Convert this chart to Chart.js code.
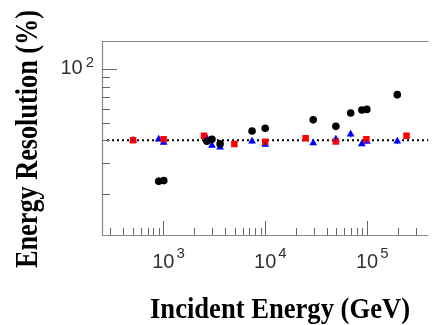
<!DOCTYPE html>
<html>
<head>
<meta charset="utf-8">
<script src="https://cdn.jsdelivr.net/npm/chart.js@4.4.0/dist/chart.umd.min.js"></script>
<style>
  html, body { margin: 0; padding: 0; background: #fff; }
  #wrap { width: 433px; height: 325px; }
</style>
</head>
<body>
<div id="wrap"><canvas id="resChart" width="433" height="325"></canvas></div>
<script>
// incident energies (GeV) and resolutions (%)
const blackE = [900, 1010, 2680, 3000, 3610, 7430, 10000, 29600, 49400, 69000, 88800, 99500, 198000];
const blackR = [23.6, 23.8, 39.5, 40.6, 38.2, 45.1, 46.7, 52.1, 47.9, 56.9, 59.1, 59.6, 72.1];
const blackErr = [1.2, 0.8, 0.6, 0.6, 0.6, 0.6, 0.6, 0.8, 0.8, 0.8, 0.8, 0.8, 3.5];

const redE = [505, 1007, 2510, 4980, 10000, 24950, 49400, 98600, 244000];
const redR = [40.1, 40.6, 42.4, 38.2, 39.3, 41.1, 39.4, 40.6, 42.4];

const blueE = [505, 901, 1007, 2685, 3000, 3610, 7430, 10000, 29600, 49400, 69000, 88800, 99500, 198000];
const blueR = [40.0, 40.5, 38.9, 40.9, 37.4, 36.6, 39.5, 37.9, 38.7, 40.5, 43.2, 38.2, 39.4, 39.5];
const blueErr = [0.5, 0.5, 1.0, 0.6, 1.0, 1.0, 1.2, 1.0, 1.2, 1.2, 1.6, 0.8, 0.8, 1.4];

const refLevel = 40;
const xRange = [250, 400000];
const yRange = [11.8, 144];

const xMajor = [1000, 10000, 100000];
const xMinor = [300, 400, 500, 600, 700, 800, 900, 2000, 3000, 4000, 5000, 6000, 7000, 8000, 9000,
  20000, 30000, 40000, 50000, 60000, 70000, 80000, 90000, 200000, 300000];
const yMajor = [100];
const yMinor = [20, 30, 40, 50, 60, 70, 80, 90];
const xLabels = [['10', '3'], ['10', '4'], ['10', '5']];
const yLabels = [['10', '2']];

const pts = (xs, ys) => xs.map((x, i) => ({ x: x, y: ys[i] }));

// condensed bold serif title, squeezed to a given width
function squeezedText(ctx, text, width) {
  const w = ctx.measureText(text).width;
  ctx.save();
  ctx.scale(width / w, 1);
  ctx.fillText(text, 0, 0);
  ctx.restore();
}

const frame = {
  id: 'frame',
  afterDatasetsDraw(chart) {
    const { ctx, chartArea: a, scales } = chart;
    const xs = scales.x, ys = scales.y;
    ctx.save();

    // error bars
    ctx.lineWidth = 1;
    const bars = (e, r, err, col) => {
      ctx.strokeStyle = col;
      e.forEach((v, i) => {
        const px = xs.getPixelForValue(v);
        ctx.beginPath();
        ctx.moveTo(px, ys.getPixelForValue(r[i] - err[i]));
        ctx.lineTo(px, ys.getPixelForValue(r[i] + err[i]));
        ctx.stroke();
      });
    };
    bars(blueE, blueR, blueErr, '#0000ff');
    bars(blackE, blackR, blackErr, '#000');

    // axes frame
    ctx.strokeStyle = '#888';
    ctx.lineWidth = 1.2;
    ctx.beginPath();
    ctx.moveTo(a.right, a.top + 0.5);
    ctx.lineTo(a.left + 0.5, a.top + 0.5);
    ctx.lineTo(a.left + 0.5, a.bottom + 0.5);
    ctx.lineTo(a.right, a.bottom + 0.5);
    ctx.stroke();

    // inward ticks
    ctx.strokeStyle = '#666';
    ctx.lineWidth = 1;
    const xt = (v, len) => {
      const p = Math.round(xs.getPixelForValue(v)) + 0.5;
      ctx.beginPath(); ctx.moveTo(p, a.bottom); ctx.lineTo(p, a.bottom - len); ctx.stroke();
    };
    const yt = (v, len) => {
      const p = Math.round(ys.getPixelForValue(v)) + 0.5;
      ctx.beginPath(); ctx.moveTo(a.left, p); ctx.lineTo(a.left + len, p); ctx.stroke();
    };
    xMajor.forEach(v => xt(v, 14));
    xMinor.forEach(v => xt(v, 7));
    yMajor.forEach(v => yt(v, 15));
    yMinor.forEach(v => yt(v, 8));

    // tick labels with superscripts
    ctx.fillStyle = '#333';
    ctx.textBaseline = 'alphabetic';
    xMajor.forEach((v, i) => {
      const p = xs.getPixelForValue(v);
      ctx.font = '20px "Liberation Sans", sans-serif';
      ctx.textAlign = 'center';
      ctx.fillText(xLabels[i][0], p, a.bottom + 33);
      const w = ctx.measureText(xLabels[i][0]).width;
      ctx.font = '15px "Liberation Sans", sans-serif';
      ctx.textAlign = 'left';
      ctx.fillText(xLabels[i][1], p + w / 2 + 2, a.bottom + 23);
    });
    yMajor.forEach((v, i) => {
      const p = ys.getPixelForValue(v);
      ctx.font = '15px "Liberation Sans", sans-serif';
      ctx.textAlign = 'right';
      ctx.fillText(yLabels[i][1], a.left - 8, p - 2);
      const w = ctx.measureText(yLabels[i][1]).width;
      ctx.font = '20px "Liberation Sans", sans-serif';
      ctx.fillText(yLabels[i][0], a.left - 11 - w, p + 5);
    });

    // axis titles
    ctx.fillStyle = '#000';
    ctx.font = 'bold 30px "Liberation Serif", serif';
    ctx.textAlign = 'center';
    ctx.textBaseline = 'alphabetic';
    ctx.save();
    ctx.translate(280, 318);
    squeezedText(ctx, 'Incident Energy (GeV)', 260);
    ctx.restore();
    ctx.save();
    ctx.font = 'bold 32px "Liberation Serif", serif';
    ctx.translate(37, 139);
    ctx.rotate(-Math.PI / 2);
    squeezedText(ctx, 'Energy Resolution (%)', 258);
    ctx.restore();

    ctx.restore();
  }
};

new Chart(document.getElementById('resChart').getContext('2d'), {
  type: 'scatter',
  data: {
    datasets: [
      {
        label: 'black',
        data: pts(blackE, blackR),
        pointStyle: 'circle',
        pointRadius: 3.8,
        backgroundColor: '#000',
        borderColor: '#000',
        borderWidth: 0
      },
      {
        label: 'red',
        data: pts(redE, redR),
        pointStyle: 'rect',
        pointRadius: 4.6,
        backgroundColor: '#ff0000',
        borderColor: '#ff0000',
        borderWidth: 0
      },
      {
        label: 'blue',
        data: pts(blueE, blueR),
        pointStyle: 'triangle',
        pointRadius: 4.5,
        backgroundColor: '#0000ff',
        borderColor: '#0000ff',
        borderWidth: 0
      },
      {
        type: 'line',
        label: 'ref',
        data: [{ x: 280, y: refLevel }, { x: xRange[1], y: refLevel }],
        borderColor: '#000',
        borderWidth: 2,
        borderDash: [2, 3],
        pointRadius: 0,
        fill: false
      }
    ]
  },
  options: {
    responsive: false,
    animation: false,
    layout: { padding: { left: 102, top: 41, right: 0, bottom: 90 } },
    plugins: { legend: { display: false }, tooltip: { enabled: false } },
    scales: {
      x: { type: 'logarithmic', display: false, min: xRange[0], max: xRange[1] },
      y: { type: 'logarithmic', display: false, min: yRange[0], max: yRange[1] }
    }
  },
  plugins: [frame]
});
</script>
</body>
</html>
